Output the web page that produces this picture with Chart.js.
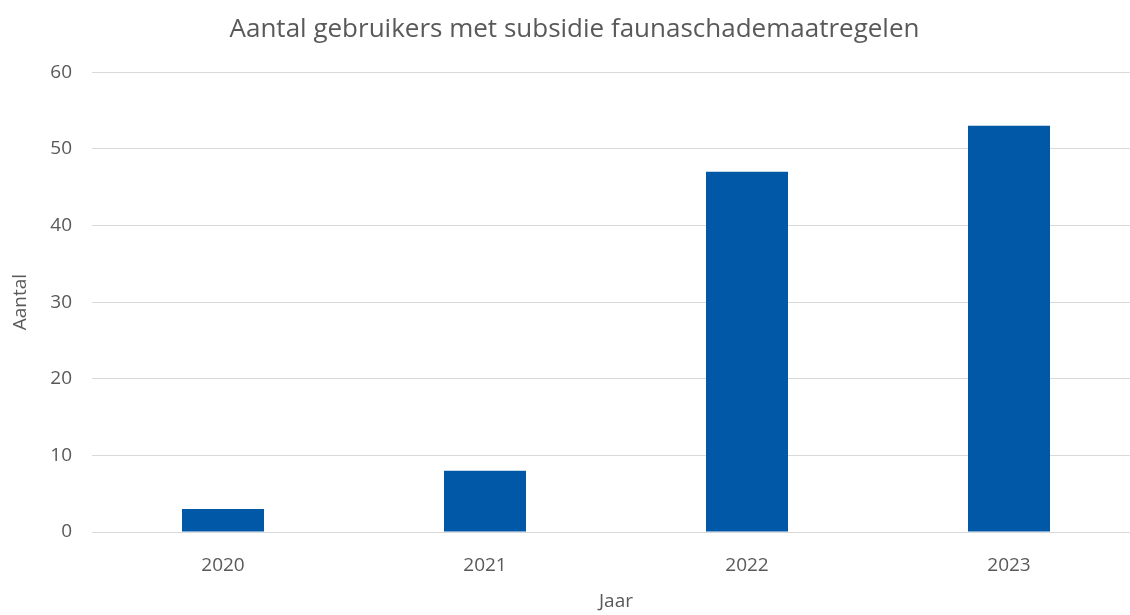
<!DOCTYPE html>
<html>
<head>
<meta charset="utf-8">
<script src="https://cdn.jsdelivr.net/npm/chart.js@4/dist/chart.umd.min.js"></script>
<style>
  html, body { margin: 0; padding: 0; background: #fff; overflow: hidden; }
  #wrap { width: 1130px; height: 615px; overflow: hidden; }
</style>
</head>
<body>
<div id="wrap"><canvas id="chart" width="1150" height="615"></canvas></div>
<script>
var years = ['2020', '2021', '2022', '2023'];
var aantal = [3, 8, 47, 53];
var yTicks = [0, 10, 20, 30, 40, 50, 60];

var textColor = '#595959';
var fontFamily = "'Open Sans', 'Liberation Sans', sans-serif";

var ctx = document.getElementById('chart').getContext('2d');
new Chart(ctx, {
  type: 'bar',
  data: {
    labels: years,
    datasets: [
      {
        label: 'Aantal',
        data: aantal,
        backgroundColor: '#0158A6',
        borderWidth: 0,
        barPercentage: 0.626,
        categoryPercentage: 0.5,
      },
    ],
  },
  options: {
    responsive: false,
    animation: false,
    layout: { padding: { left: 9, right: 10, top: 8, bottom: 2 } },
    plugins: {
      legend: { display: false },
      tooltip: { enabled: false },
      title: {
        display: true,
        text: 'Aantal gebruikers met subsidie faunaschademaatregelen',
        color: textColor,
        font: { family: fontFamily, size: 26, weight: 'normal' },
        padding: { top: 6, bottom: 27 },
      },
    },
    scales: {
      x: {
        grid: { display: false, drawTicks: false },
        border: { display: true, color: '#d9d9d9', width: 1 },
        ticks: { color: textColor, font: { family: fontFamily, size: 19 }, padding: 22 },
        title: {
          display: true,
          text: 'Jaar',
          color: textColor,
          font: { family: fontFamily, size: 19 },
          padding: { top: 8, bottom: 0 },
        },
        afterFit: function (scale) { scale.height = 81; },
      },
      y: {
        min: 0,
        max: 60,
        afterBuildTicks: function (scale) {
          scale.ticks = yTicks.map(function (v) { return { value: v }; });
        },
        grid: { color: '#d9d9d9', drawTicks: false },
        border: { display: false },
        ticks: { color: textColor, font: { family: fontFamily, size: 19 }, padding: 20 },
        title: {
          display: true,
          text: 'Aantal',
          color: textColor,
          font: { family: fontFamily, size: 19 },
          padding: { top: 0, bottom: 4 },
        },
        afterFit: function (scale) { scale.width = 83; },
      },
    },
  },
});
</script>
</body>
</html>
